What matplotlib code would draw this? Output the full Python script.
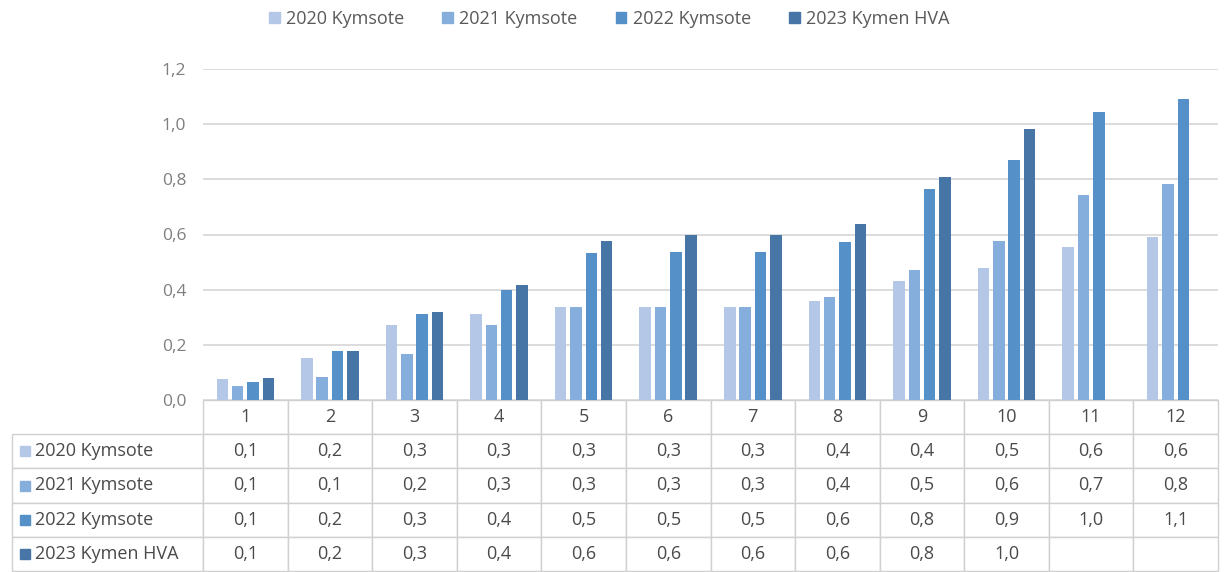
import numpy as np
import matplotlib
matplotlib.use("Agg")
import matplotlib.pyplot as plt
from matplotlib.patches import Rectangle

plt.rcParams['font.family'] = ['Open Sans', 'DejaVu Sans']

months = ['1', '2', '3', '4', '5', '6', '7', '8', '9', '10', '11', '12']
series = ['2020 Kymsote', '2021 Kymsote', '2022 Kymsote', '2023 Kymen HVA']
v2020 = [0.076, 0.152, 0.272, 0.312, 0.338, 0.338, 0.338, 0.359, 0.432, 0.478, 0.556, 0.590]
v2021 = [0.052, 0.085, 0.166, 0.272, 0.338, 0.338, 0.338, 0.372, 0.471, 0.577, 0.743, 0.783]
v2022 = [0.065, 0.178, 0.312, 0.399, 0.532, 0.538, 0.538, 0.571, 0.765, 0.870, 1.044, 1.090]
v2023 = [0.078, 0.178, 0.318, 0.417, 0.577, 0.599, 0.599, 0.638, 0.810, 0.983, np.nan, np.nan]
colors = ['#b4c7e7', '#85aedc', '#5590c9', '#4675a6']

data = [v2020, v2021, v2022, v2023]

W, H = 1226, 572
fig = plt.figure(figsize=(W / 100, H / 100), dpi=100)
# axes in pixel terms: left 203, right 1218, top 69, bottom 400
ax = fig.add_axes([203 / W, 1 - 400 / H, 1015 / W, 331 / H])

x = np.arange(len(months))
pitch = 0.181
bw = 0.136
for i, (vals, c) in enumerate(zip(data, colors)):
    ax.bar(x + (i - 1.5) * pitch, vals, width=bw, color=c, zorder=3)

ax.set_xlim(-0.5, len(months) - 0.5)
ax.set_ylim(0, 1.2)
ax.set_yticks(np.arange(0, 1.21, 0.2))
ax.set_yticklabels([f"{t:.1f}".replace('.', ',') for t in np.arange(0, 1.21, 0.2)])
ax.tick_params(axis='y', length=0, pad=12, labelsize=12.5, labelcolor='#7f7f7f')
ax.set_xticks([])
ax.grid(axis='y', color='#d9d9d9', linewidth=1.3, zorder=0)
for s in ax.spines.values():
    s.set_visible(False)


def fmt(v):
    if np.isnan(v):
        return ''
    return f"{v:.1f}".replace('.', ',')


cell_text = [[name] + [fmt(v) for v in vals] for name, vals in zip(series, data)]
col_labels = [''] + months
total = 1206
widths = [191 / total] + [84.58 / total] * 12

y0 = -171 / 331
tab = ax.table(cellText=cell_text, colLabels=col_labels, colWidths=widths,
               cellLoc='center', bbox=[-191 / 1015, y0, 1206 / 1015, -y0])
tab.auto_set_font_size(False)
for (r, c), cell in tab.get_celld().items():
    cell.set_edgecolor('#d0d0d0')
    cell.set_linewidth(1.0)
    cell.get_text().set_fontsize(13)
    cell.get_text().set_color('#4a4a4a')
    if r == 0 and c == 0:
        cell.set_visible(False)
    if c == 0 and r > 0:
        cell.get_text().set_ha('left')
        cell.PAD = 0.12

# legend keys inside the row label cells
row_h = -y0 / 5
lab_x0 = -191 / 1015
for i, c in enumerate(colors):
    yc = y0 + row_h * (3 - i) + row_h / 2
    ax.add_patch(Rectangle((lab_x0 + 8 / 1015, yc - 5 / 331), 10 / 1015, 10 / 331,
                           transform=ax.transAxes, color=c, clip_on=False))

handles = [Rectangle((0, 0), 1, 1, color=c) for c in colors]
fig.legend(handles, series, loc='center', bbox_to_anchor=(0.497, 1 - 19 / H),
           ncol=4, frameon=False, handlelength=0.6, handleheight=0.6,
           handletextpad=0.35, columnspacing=2.1, fontsize=13,
           labelcolor='#595959')

fig.savefig('out.png', dpi=100)
